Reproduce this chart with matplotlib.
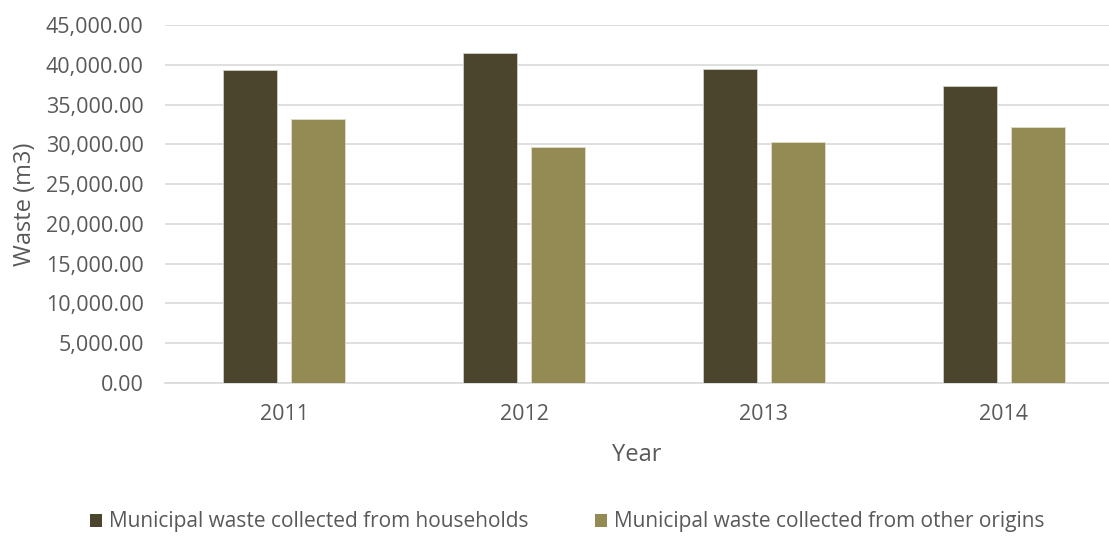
import matplotlib
matplotlib.use("Agg")
import matplotlib.pyplot as plt
import numpy as np
from matplotlib.ticker import FuncFormatter

years = ["2011", "2012", "2013", "2014"]
households = [39300, 41460, 39500, 37300]
other = [33180, 29690, 30270, 32210]
series_names = ["Municipal waste collected from households",
                "Municipal waste collected from other origins"]
colors = ["#4B452D", "#948A54"]

plt.rcParams['font.family'] = ['Open Sans', 'DejaVu Sans']
W, H = 1109, 536
fig = plt.figure(figsize=(W/100, H/100), dpi=100)
ax = fig.add_axes([164.5/W, 1-383/H, (1109-164.5)/W, (383-25)/H])

x = np.arange(len(years))
bw = 0.225
off = 0.142
ax.bar(x - off, households, bw, color=colors[0], edgecolor="#D0CFC8", linewidth=0.6,
       label=series_names[0], zorder=3)
ax.bar(x + off, other, bw, color=colors[1], edgecolor="#E0DDCC", linewidth=0.6,
       label=series_names[1], zorder=3)

ax.set_xlim(-0.5, 3.5 - (1123.5-1109)/240)
ax.set_ylim(0, 45000)
ax.set_yticks(np.arange(0, 45001, 5000))
ax.yaxis.set_major_formatter(FuncFormatter(lambda v, p: f"{v:,.2f}"))
ax.set_xticks(x)
ax.set_xticklabels(years)
ax.grid(axis='y', color="#D9D9D9", linewidth=1.2, zorder=0)
for s in ["top", "right", "left"]:
    ax.spines[s].set_visible(False)
ax.spines["bottom"].set_color("#D9D9D9")
ax.spines["bottom"].set_linewidth(1.2)
ax.tick_params(axis='both', length=0, colors="#595959")
ax.tick_params(axis='x', pad=15, labelsize=15.5)
ax.tick_params(axis='y', pad=15, labelsize=15.5)
ax.set_xlabel("Year", color="#595959", fontsize=17, labelpad=13)
ax.set_ylabel("Waste (m3)", color="#595959", fontsize=17, labelpad=6)

leg = fig.legend(loc="center", bbox_to_anchor=(567/W, 1-522/H), ncol=2, frameon=False,
                 fontsize=15, handlelength=0.6, handleheight=0.6, columnspacing=3.2,
                 handletextpad=0.3, labelcolor="#595959")
for h in leg.legend_handles:
    h.set_edgecolor("none")

fig.savefig("out.png", dpi=100)
